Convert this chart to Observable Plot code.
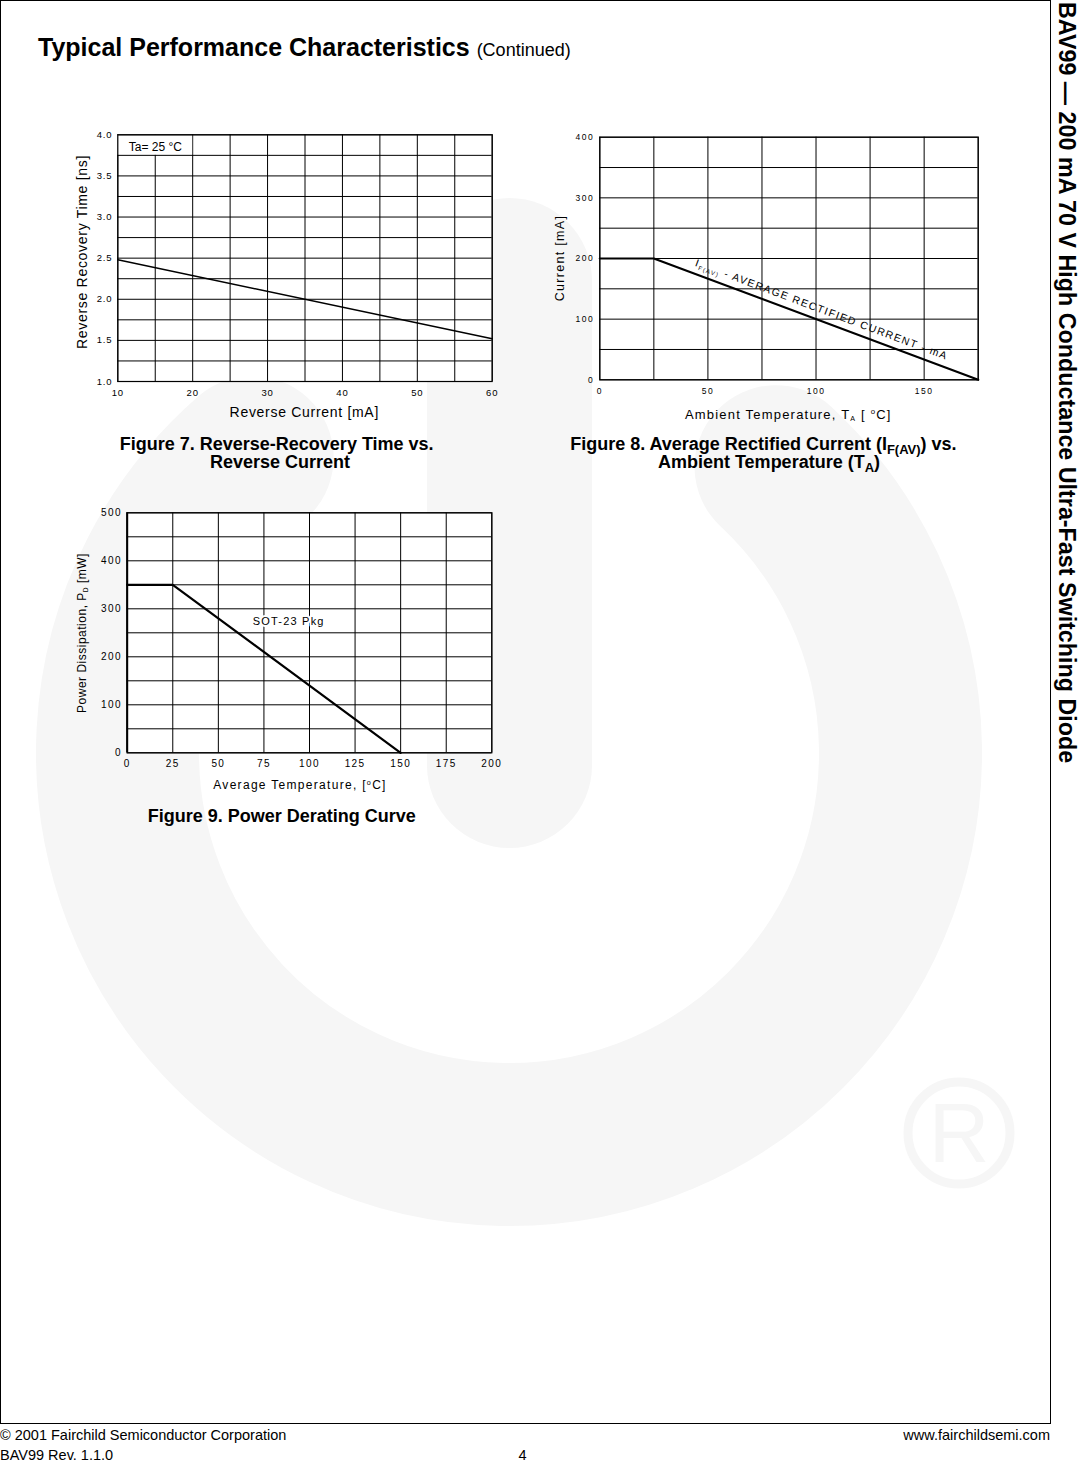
<!DOCTYPE html>
<html>
<head>
<meta charset="utf-8">
<script src="https://cdn.jsdelivr.net/npm/d3@7"></script>
<script src="https://cdn.jsdelivr.net/npm/@observablehq/plot@0.6"></script>
<style>
html, body { margin: 0; padding: 0; background: #fff; }
body { width: 1086px; height: 1462px; position: relative; overflow: hidden;
  font-family: "Liberation Sans", Arial, Helvetica, sans-serif; color: #000; }
.abs { position: absolute; white-space: nowrap; }
.c { transform: translate(-50%, -50%); line-height: 1; }
.r { transform: translate(-50%, -50%) rotate(-90deg); line-height: 1; }
.cap { font-size: 18px; font-weight: bold; line-height: 18px; transform: translateX(-50%); }
.capsub { font-size: 13px; position: relative; top: 4px; }
.sub { font-size: 0.55em; position: relative; top: 0.35em; }
.sup { font-size: 0.6em; position: relative; top: -0.55em; }
.foot { font-size: 14.5px; line-height: 14.5px; }
#fig7 [aria-label^="x-axis"] text, #fig7 [aria-label^="y-axis"] text { letter-spacing: 0.8px; }
#fig8 [aria-label^="x-axis"] text, #fig8 [aria-label^="y-axis"] text { letter-spacing: 1.5px; }
#fig9 [aria-label^="x-axis"] text, #fig9 [aria-label^="y-axis"] text { letter-spacing: 1.4px; }
#fig8 g[aria-label="text"] text { letter-spacing: 1.4px; }
#fig9 g[aria-label="text"] text { letter-spacing: 1.2px; paint-order: stroke; }
</style>
</head>
<body>
<div id="wm" class="abs" style="left:0;top:0;width:1086px;height:1462px"></div>
<div class="abs" style="left:0;top:0;width:1051px;height:1424px;border:1.3px solid #000;box-sizing:border-box"></div>

<div class="abs" style="left:38px;top:34.8px;font-size:25px;font-weight:bold;line-height:25px">Typical Performance Characteristics <span style="font-size:18px;font-weight:normal">(Continued)</span></div>

<div class="abs" style="left:1080px;top:2px;transform-origin:0 0;transform:rotate(90deg);font-size:23.3px;font-weight:bold;line-height:26px">BAV99 — 200 mA 70 V High Conductance Ultra-Fast Switching Diode</div>

<div id="fig7" class="abs" style="left:60px;top:100px;width:450px;height:300px"></div>
<div id="fig8" class="abs" style="left:540px;top:100px;width:470px;height:300px"></div>
<div id="fig9" class="abs" style="left:60px;top:495px;width:450px;height:280px"></div>

<!-- axis labels -->
<div class="abs c" style="left:304.3px;top:411.7px;font-size:14px;letter-spacing:0.7px">Reverse Current [mA]</div>
<div class="abs r" style="left:82px;top:252px;font-size:14px;letter-spacing:0.7px">Reverse Recovery Time [ns]</div>
<div class="abs c" style="left:788.3px;top:414.7px;font-size:13px;letter-spacing:1.2px">Ambient Temperature, T<span class="sub">A</span> [ <span class="sup">o</span>C]</div>
<div class="abs r" style="left:559.5px;top:258px;font-size:12.5px;letter-spacing:1.3px">Current [mA]</div>
<div class="abs c" style="left:300px;top:785px;font-size:12px;letter-spacing:1.3px">Average Temperature, [<span class="sup">o</span>C]</div>
<div class="abs r" style="left:82px;top:633px;font-size:12px;letter-spacing:0.5px">Power Dissipation, P<span class="sub">D</span> [mW]</div>

<!-- captions -->
<div class="abs cap" style="left:276.7px;top:434.8px">Figure 7. Reverse-Recovery Time vs.</div>
<div class="abs cap" style="left:280px;top:453.1px">Reverse Current</div>
<div class="abs cap" style="left:763.4px;top:434.8px">Figure 8. Average Rectified Current (I<span class="capsub">F(AV)</span>) vs.</div>
<div class="abs cap" style="left:769px;top:453.3px">Ambient Temperature (T<span class="capsub">A</span>)</div>
<div class="abs cap" style="left:281.7px;top:807.1px">Figure 9. Power Derating Curve</div>

<!-- footer -->
<div class="abs foot" style="left:0;top:1427.7px">© 2001 Fairchild Semiconductor Corporation</div>
<div class="abs foot" style="right:36px;top:1427.7px">www.fairchildsemi.com</div>
<div class="abs foot" style="left:0;top:1448.2px">BAV99 Rev. 1.1.0</div>
<div class="abs foot" style="left:522.5px;top:1448.2px;transform:translateX(-50%)">4</div>

<script>
const FONT = '"Liberation Sans", Arial, Helvetica, sans-serif';

// ---------- Figure 7 data ----------
const fig7Current = [10, 60];            // Reverse current [mA]
const fig7Trr = [2.48, 1.52];            // Reverse recovery time [ns]
const fig7XTicks = [10, 20, 30, 40, 50, 60];
const fig7YTicks = [1.0, 1.5, 2.0, 2.5, 3.0, 3.5, 4.0];
const fig7XGrid = [10, 15, 20, 25, 30, 35, 40, 45, 50, 55, 60];
const fig7YGrid = [1.0, 1.25, 1.5, 1.75, 2.0, 2.25, 2.5, 2.75, 3.0, 3.25, 3.5, 3.75, 4.0];
const fig7Note = ["Ta= 25 °C"];
const fig7NoteCell = [{x1: 10, x2: 20, y1: 3.75, y2: 4.0}];

// ---------- Figure 8 data ----------
const fig8Temp = [0, 25, 175];           // Ambient temperature [°C]
const fig8Current = [200, 200, 0];       // Average rectified current [mA]
const fig8XTicks = [0, 50, 100, 150];
const fig8YTicks = [0, 100, 200, 300, 400];
const fig8XGrid = [0, 25, 50, 75, 100, 125, 150, 175];
const fig8YGrid = [0, 50, 100, 150, 200, 250, 300, 350, 400];
const fig8LabelParts = ["I", "F(AV)", " - AVERAGE RECTIFIED CURRENT - mA"];
const fig8LabelAt = [{t: 43.8, i: 188}];

// ---------- Figure 9 data ----------
const fig9Temp = [0, 25, 150];           // Average temperature [°C]
const fig9Power = [350, 350, 0];         // Power dissipation [mW]
const fig9XTicks = [0, 25, 50, 75, 100, 125, 150, 175, 200];
const fig9YTicks = [0, 100, 200, 300, 400, 500];
const fig9XGrid = [0, 25, 50, 75, 100, 125, 150, 175, 200];
const fig9YGrid = [0, 50, 100, 150, 200, 250, 300, 350, 400, 450, 500];
const fig9Note = [{t: 88.6, p: 273, label: "SOT-23 Pkg"}];

// ---------- watermark (decorative background logo) ----------
const WMC = "#f6f6f6";
const WM = {cx: 509, cy: 753, r: 391.5, w: 163, a0: 229, a1: -47};
(function drawWatermark() {
  const svg = d3.select("#wm").append("svg").attr("width", 1086).attr("height", 1462);
  const pt = a => [WM.cx + WM.r * Math.cos(a * Math.PI / 180), WM.cy + WM.r * Math.sin(a * Math.PI / 180)];
  const [sx, sy] = pt(WM.a0), [ex, ey] = pt(WM.a1);
  svg.append("path")
    .attr("d", `M${sx},${sy}A${WM.r},${WM.r} 0 1 0 ${ex},${ey}`)
    .attr("fill", "none").attr("stroke", WMC).attr("stroke-width", WM.w).attr("stroke-linecap", "round");
  svg.append("rect").attr("x", 427).attr("y", 198).attr("width", 165).attr("height", 650).attr("rx", 82.5).attr("fill", WMC);
  svg.append("circle").attr("cx", 959).attr("cy", 1133).attr("r", 51).attr("fill", "none").attr("stroke", WMC).attr("stroke-width", 9);
  svg.append("text").attr("x", 959).attr("y", 1133).attr("dy", "0.35em").attr("text-anchor", "middle")
    .attr("font-family", FONT).attr("font-size", 84).attr("fill", WMC).text("R");
})();

const baseStyle = size => ({fontFamily: FONT, fontSize: size, background: "transparent", overflow: "visible", color: "#000"});

// ---------- Figure 7 ----------
const fig7 = Plot.plot({
  width: 450, height: 300,
  marginLeft: 57.3, marginRight: 18.3, marginTop: 34.3, marginBottom: 19,
  style: baseStyle("9.5px"),
  x: {type: "linear", domain: [10, 60], ticks: fig7XTicks, tickSize: 0, tickPadding: 7.4, label: null, tickFormat: d3.format("d")},
  y: {type: "linear", domain: [1, 4], ticks: fig7YTicks, tickSize: 0, tickPadding: 5.5, label: null, tickFormat: d3.format(".1f")},
  marks: [
    Plot.frame({fill: "white", stroke: "none"}),
    Plot.ruleX(fig7XGrid, {stroke: "#000", strokeWidth: 1}),
    Plot.rect(fig7NoteCell, {x1: "x1", x2: "x2", y1: "y1", y2: "y2", fill: "white"}),
    Plot.ruleY(fig7YGrid, {stroke: "#000", strokeWidth: 1}),
    Plot.frame({stroke: "#000", strokeWidth: 1.2}),
    Plot.line(fig7Current, {x: fig7Current, y: fig7Trr, stroke: "#000", strokeWidth: 1.4}),
    Plot.text(fig7Note, {text: d => d, frameAnchor: "top-left", dx: 11, dy: 12.4, textAnchor: "start", lineAnchor: "middle", fontSize: 12, fill: "#000"})
  ]
});
document.getElementById("fig7").appendChild(fig7);

// ---------- Figure 8 ----------
const fig8 = Plot.plot({
  width: 470, height: 300,
  marginLeft: 59.3, marginRight: 32.3, marginTop: 36.7, marginBottom: 20.7,
  style: baseStyle("8.5px"),
  x: {type: "linear", domain: [0, 175], ticks: fig8XTicks, tickSize: 0, tickPadding: 8.4, label: null, tickFormat: d3.format("d")},
  y: {type: "linear", domain: [0, 400], ticks: fig8YTicks, tickSize: 0, tickPadding: 5.5, label: null, tickFormat: d3.format("d")},
  marks: [
    Plot.frame({fill: "white", stroke: "none"}),
    Plot.ruleX(fig8XGrid, {stroke: "#000", strokeWidth: 1}),
    Plot.ruleY(fig8YGrid, {stroke: "#000", strokeWidth: 1}),
    Plot.frame({stroke: "#000", strokeWidth: 1.2}),
    Plot.line(fig8Temp, {x: fig8Temp, y: fig8Current, stroke: "#000", strokeWidth: 2.2}),
    Plot.text(fig8LabelAt, {x: "t", y: "i", text: () => fig8LabelParts.join(""), rotate: 20.5, textAnchor: "start", lineAnchor: "bottom", fontSize: 10.5, fill: "#000"})
  ]
});
document.getElementById("fig8").appendChild(fig8);
{
  const lbl = d3.select(fig8).select('g[aria-label="text"] text');
  lbl.text(null);
  lbl.append("tspan").text(fig8LabelParts[0]);
  lbl.append("tspan").attr("font-size", 6).attr("dy", 2.5).text(fig8LabelParts[1]);
  lbl.append("tspan").attr("dy", -2.5).text(fig8LabelParts[2]);
}

// ---------- Figure 9 ----------
const fig9 = Plot.plot({
  width: 450, height: 280,
  marginLeft: 66.7, marginRight: 18.7, marginTop: 17.3, marginBottom: 22.7,
  style: baseStyle("10px"),
  x: {type: "linear", domain: [0, 200], ticks: fig9XTicks, tickSize: 0, tickPadding: 6.9, label: null, tickFormat: d3.format("d")},
  y: {type: "linear", domain: [0, 500], ticks: fig9YTicks, tickSize: 0, tickPadding: 5.3, label: null, tickFormat: d3.format("d")},
  marks: [
    Plot.frame({fill: "white", stroke: "none"}),
    Plot.ruleX(fig9XGrid, {stroke: "#000", strokeWidth: 1}),
    Plot.ruleY(fig9YGrid, {stroke: "#000", strokeWidth: 1}),
    Plot.frame({stroke: "#000", strokeWidth: 1.2}),
    Plot.ruleX(fig9XGrid.slice(0, 1), {stroke: "#000", strokeWidth: 2}),
    Plot.line(fig9Temp, {x: fig9Temp, y: fig9Power, stroke: "#000", strokeWidth: 2.2}),
    Plot.text(fig9Note, {x: "t", y: "p", text: "label", fontSize: 11, fill: "#000", stroke: "white", strokeWidth: 4})
  ]
});
document.getElementById("fig9").appendChild(fig9);
</script>
</body>
</html>
